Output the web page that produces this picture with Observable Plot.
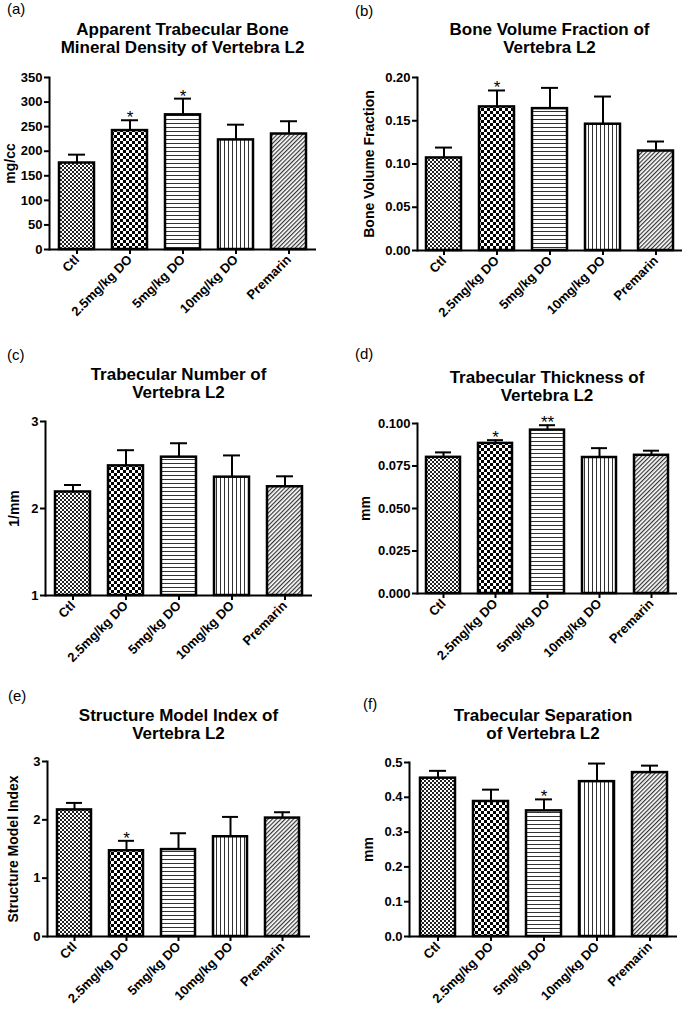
<!DOCTYPE html>
<html><head><meta charset="utf-8">
<script src="https://cdn.jsdelivr.net/npm/d3@7"></script>
<script src="https://cdn.jsdelivr.net/npm/@observablehq/plot@0.6"></script>
<style>
html,body{margin:0;padding:0;background:#fff;}
#root{position:relative;width:685px;height:1009px;font-family:"Liberation Sans",Arial,sans-serif;color:#000;overflow:hidden;background:#fff}
.tag{position:absolute;font-size:15px;line-height:15px;white-space:nowrap}
.title{position:absolute;width:340px;text-align:center;font-weight:bold;font-size:17px;line-height:18px;white-space:nowrap}
.chart{position:absolute;}
</style></head><body>
<svg width="0" height="0" style="position:absolute">
<defs>
<pattern id="pat0" width="4" height="4" patternUnits="userSpaceOnUse">
 <rect width="4" height="4" fill="#fff"/><rect width="2" height="2" fill="#222"/><rect x="2" y="2" width="2" height="2" fill="#222"/>
</pattern>
<pattern id="pat1" width="6" height="6" patternUnits="userSpaceOnUse">
 <rect width="6" height="6" fill="#fff"/><rect width="3" height="3" fill="#000"/><rect x="3" y="3" width="3" height="3" fill="#000"/>
</pattern>
<pattern id="pat2" width="4" height="4" patternUnits="userSpaceOnUse">
 <rect width="4" height="4" fill="#fff"/><rect width="4" height="1" fill="#333"/>
</pattern>
<pattern id="pat3" width="4" height="4" patternUnits="userSpaceOnUse">
 <rect width="4" height="4" fill="#fff"/><rect width="1" height="4" fill="#333"/>
</pattern>
<pattern id="pat4" width="3" height="3" patternUnits="userSpaceOnUse" patternTransform="rotate(45)">
 <rect width="3" height="3" fill="#fff"/><rect width="1.2" height="3" fill="#333"/>
</pattern>
</defs></svg>
<div id="root"></div>
<script>
// ---- data ----
const groups = ["Ctl", "2.5mg/kg DO", "5mg/kg DO", "10mg/kg DO", "Premarin"];

const bmdMean = [176, 242, 274, 223, 235];
const bmdSem  = [17, 21, 33, 31, 26];
const bmdSig  = ["", "*", "*", "", ""];

const bvfMean = [0.107, 0.166, 0.164, 0.146, 0.115];
const bvfSem  = [0.012, 0.019, 0.024, 0.032, 0.011];
const bvfSig  = ["", "*", "", "", ""];

const tbnMean = [2.19, 2.49, 2.59, 2.36, 2.25];
const tbnSem  = [0.08, 0.18, 0.16, 0.25, 0.12];
const tbnSig  = ["", "", "", "", ""];

const tbthMean = [0.0801, 0.0883, 0.0961, 0.0800, 0.0813];
const tbthSem  = [0.0029, 0.0019, 0.0029, 0.0055, 0.0027];
const tbthSig  = ["", "*", "**", "", ""];

const smiMean = [2.17, 1.47, 1.49, 1.71, 2.03];
const smiSem  = [0.12, 0.17, 0.28, 0.34, 0.10];
const smiSig  = ["", "*", "", "", ""];

const tbspMean = [0.455, 0.388, 0.361, 0.445, 0.471];
const tbspSem  = [0.021, 0.034, 0.033, 0.052, 0.020];
const tbspSig  = ["", "", "*", "", ""];

const bmdTicks  = [0, 50, 100, 150, 200, 250, 300, 350];
const bvfTicks  = [0, 0.05, 0.10, 0.15, 0.20];
const tbnTicks  = [1, 2, 3];
const tbthTicks = [0, 0.025, 0.05, 0.075, 0.1];
const smiTicks  = [0, 1, 2, 3];
const tbspTicks = [0, 0.1, 0.2, 0.3, 0.4, 0.5];

const panels = [
  {tag: "(a)", title: ["Apparent Trabecular Bone", "Mineral Density of Vertebra L2"], yLabel: "mg/cc",
   means: bmdMean, sems: bmdSem, sig: bmdSig, domain: [0, 350], ticks: bmdTicks, fmt: d3.format("d"),
   svgLeft: 0, frame: {l: 49, r: 316, t: 77, b: 249}, labelDx: -39, tagPos: [7, 1], titleTop: 21},
  {tag: "(b)", title: ["Bone Volume Fraction of", "Vertebra L2"], yLabel: "Bone Volume Fraction",
   means: bvfMean, sems: bvfSem, sig: bvfSig, domain: [0, 0.2], ticks: bvfTicks, fmt: d3.format(".2f"),
   svgLeft: 340, frame: {l: 417, r: 682, t: 77, b: 250}, labelDx: -48, tagPos: [355, 3], titleTop: 21},
  {tag: "(c)", title: ["Trabecular Number of", "Vertebra L2"], yLabel: "1/mm",
   means: tbnMean, sems: tbnSem, sig: tbnSig, domain: [1, 3], ticks: tbnTicks, fmt: d3.format("d"),
   svgLeft: 0, frame: {l: 45, r: 312, t: 421, b: 595}, labelDx: -31, tagPos: [7, 347], titleTop: 366},
  {tag: "(d)", title: ["Trabecular Thickness of", "Vertebra L2"], yLabel: "mm",
   means: tbthMean, sems: tbthSem, sig: tbthSig, domain: [0, 0.1], ticks: tbthTicks, fmt: d3.format(".3f"),
   svgLeft: 340, frame: {l: 417, r: 677, t: 423, b: 593}, labelDx: -52, tagPos: [355, 346], titleTop: 369},
  {tag: "(e)", title: ["Structure Model Index of", "Vertebra L2"], yLabel: "Structure Model Index",
   means: smiMean, sems: smiSem, sig: smiSig, domain: [0, 3], ticks: smiTicks, fmt: d3.format("d"),
   svgLeft: 0, frame: {l: 47, r: 310, t: 761, b: 936}, labelDx: -34, tagPos: [8, 688], titleTop: 707},
  {tag: "(f)", title: ["Trabecular Separation", "of Vertebra L2"], yLabel: "mm",
   means: tbspMean, sems: tbspSem, sig: tbspSig, domain: [0, 0.5], ticks: tbspTicks, fmt: d3.format(".1f"),
   svgLeft: 340, frame: {l: 409, r: 677, t: 762, b: 936}, labelDx: -41, tagPos: [363, 696], titleTop: 707}
];

const root = document.getElementById("root");

for (const p of panels) {
  const mt = 14, mb = 84;
  const data = groups.map((g, i) => ({g, mean: p.means[i], top: p.means[i] + p.sems[i], sig: p.sig[i], pat: `url(#pat${i})`, base: p.domain[0]}));
  const width = p.frame.r - p.svgLeft + 3;
  const chart = Plot.plot({
    width,
    height: p.frame.b - p.frame.t + mt + mb,
    marginLeft: p.frame.l - p.svgLeft,
    marginRight: width - (p.frame.r - p.svgLeft),
    marginTop: mt,
    marginBottom: mb,
    style: {fontFamily: "'Liberation Sans', Arial, sans-serif", fontSize: "13px", fontWeight: "bold", background: "transparent", overflow: "visible"},
    x: {domain: groups, paddingInner: 0.34, paddingOuter: 0.17, label: null},
    y: {domain: p.domain, label: null},
    color: {type: "identity"},
    marks: [
      Plot.ruleX(data, {x: "g", y1: "mean", y2: "top", strokeWidth: 2}),
      Plot.tickY(data, {x: "g", y: "top", strokeWidth: 2, insetLeft: 9, insetRight: 9}),
      Plot.barY(data, {x: "g", y1: "base", y2: "mean", fill: "pat", stroke: "black", strokeWidth: 2.5}),
      Plot.text(data.filter(d => d.sig), {x: "g", y: "top", text: "sig", dy: 3, lineAnchor: "bottom", fontSize: 17, fontWeight: "normal"}),
      Plot.axisY({ticks: p.ticks, tickFormat: p.fmt, tickSize: 5, tickPadding: 2, strokeWidth: 2, fontSize: 13, label: null}),
      Plot.axisX({tickRotate: -45, tickSize: 5, tickPadding: 3, strokeWidth: 2, fontSize: 13, label: null}),
      Plot.ruleY([p.domain[0]], {strokeWidth: 2}),
      Plot.frame({anchor: "left", strokeWidth: 2}),
      Plot.text([p.yLabel], {frameAnchor: "left", dx: p.labelDx, rotate: -90, textAnchor: "middle", fontSize: 14})
    ]
  });
  chart.classList.add("chart");
  chart.style.left = p.svgLeft + "px";
  chart.style.top = (p.frame.t - mt) + "px";
  root.appendChild(chart);

  const tag = document.createElement("div");
  tag.className = "tag";
  tag.textContent = p.tag;
  tag.style.left = p.tagPos[0] + "px";
  tag.style.top = p.tagPos[1] + "px";
  root.appendChild(tag);

  const t = document.createElement("div");
  t.className = "title";
  t.innerHTML = p.title.join("<br>");
  t.style.left = ((p.frame.l + p.frame.r) / 2 - 170) + "px";
  t.style.top = p.titleTop + "px";
  root.appendChild(t);
}
</script>
</body></html>
